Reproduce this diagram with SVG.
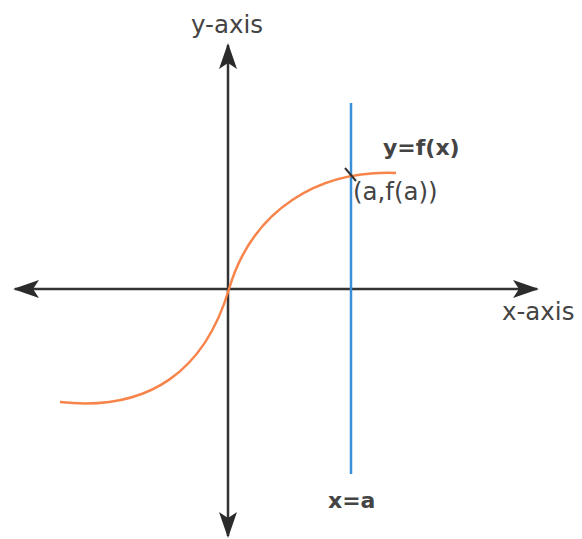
<svg xmlns="http://www.w3.org/2000/svg" width="582" height="539" viewBox="0 0 582 539">
<style>
.lbl{font-family:"DejaVu Sans","Open Sans",sans-serif;fill:#444;font-size:24.5px}
.b{font-weight:bold;font-size:22px}
.axis{stroke:#333;stroke-width:2.5;fill:none}
</style>
<defs>
<marker id="ah" viewBox="0 0 26 18" refX="24" refY="9" markerWidth="26" markerHeight="18" markerUnits="userSpaceOnUse" orient="auto">
<path d="M0,0 L26,9 L0,18 L6,9 Z" fill="#2b2b2b"/>
</marker>
</defs>
<rect width="582" height="539" fill="#fff"/>
<g id="connectors">
<line class="axis" x1="228" y1="289" x2="228" y2="45" marker-end="url(#ah)"/>
<line class="axis" x1="228" y1="289" x2="228" y2="536" marker-end="url(#ah)"/>
<line class="axis" x1="228" y1="289" x2="15" y2="289" marker-end="url(#ah)"/>
<line class="axis" x1="228" y1="289" x2="537" y2="289" marker-end="url(#ah)"/>
</g>
<g id="line-x-a">
<line x1="351" y1="103" x2="351" y2="474" stroke="#3a8fd9" stroke-width="2.5"/>
</g>
<g id="curve">
<path d="M60,402 C150,412 205,370 229,289 S320,170 396,173" fill="none" stroke="#f7844a" stroke-width="2.5"/>
</g>
<g id="point">
<line x1="345" y1="168" x2="356" y2="181" stroke="#333" stroke-width="2"/>
</g>
<g id="labels">
<text class="lbl" x="227" y="33" text-anchor="middle">y-axis</text>
<text class="lbl" x="502" y="320">x-axis</text>
<text class="lbl b" x="383" y="155">y=f(x)</text>
<text class="lbl" x="353" y="200">(a,f(a))</text>
<text class="lbl b" x="328" y="508">x=a</text>
</g>
</svg>
